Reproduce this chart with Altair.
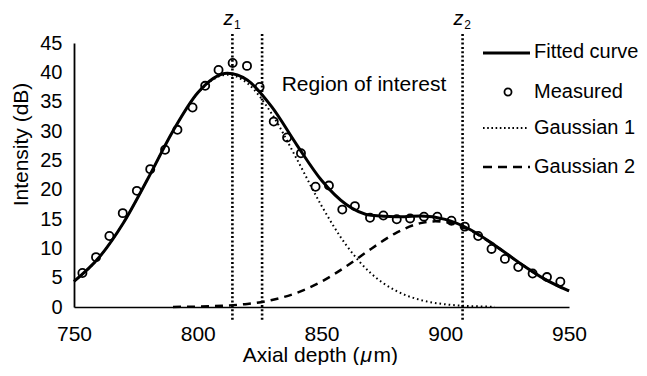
import altair as alt
import pandas as pd

# ---------------- data ----------------
measured_depth = [753.4, 758.9, 764.3, 769.7, 775.4, 780.8, 786.8, 791.8, 797.9, 803.0,
                  808.4, 814.1, 819.9, 825.0, 830.7, 836.1, 841.7, 847.6, 853.0, 858.4,
                  863.5, 869.6, 875.0, 880.4, 885.8, 891.4, 896.8, 902.5, 907.9, 913.3,
                  918.7, 924.1, 929.5, 935.3, 941.1, 946.5]
measured_intensity = [5.8, 8.5, 12.1, 16.0, 19.8, 23.5, 26.8, 30.2, 34.0, 37.7,
                      40.4, 41.6, 41.1, 37.5, 31.6, 28.9, 26.2, 20.5, 20.7, 16.6,
                      17.2, 15.2, 15.6, 14.95, 15.1, 15.4, 15.4, 14.7, 13.7, 12.1,
                      9.9, 8.2, 6.8, 5.7, 5.1, 4.3]

fit_depth = [750, 760, 770, 780, 790, 800, 812, 820, 830, 840, 850, 860, 870, 880,
             890, 900, 910, 920, 930, 940, 950]
fit_intensity = [4.35, 8.38, 14.37, 22.00, 30.01, 36.53, 39.85, 38.70, 34.07, 27.65,
                 21.60, 17.47, 15.63, 15.38, 15.50, 14.93, 13.21, 10.54, 7.52, 4.80, 2.73]

g1_depth = [750, 760, 770, 780, 790, 800, 812, 820, 830, 840, 850, 860, 870, 880,
            890, 900, 910, 920]
g1_intensity = [4.35, 8.38, 14.37, 21.99, 29.99, 36.46, 39.60, 38.17, 32.87, 25.24,
                17.27, 10.54, 5.73, 2.78, 1.20, 0.46, 0.16, 0.05]

g2_depth = [790, 800, 810, 820, 830, 840, 850, 860, 870, 880, 890, 896, 900, 910,
            920, 930, 940, 950]
g2_intensity = [0.02, 0.07, 0.21, 0.53, 1.20, 2.41, 4.33, 6.93, 9.90, 12.60, 14.30,
                14.60, 14.47, 13.05, 10.49, 7.51, 4.80, 2.73]

marker_depth = [814, 826, 907]
z_labels = [("z", "1", 814), ("z", "2", 907)]

x_ticks = [750, 800, 850, 900, 950]
y_ticks = [0, 5, 10, 15, 20, 25, 30, 35, 40, 45]

legend_labels = ["Fitted curve", "Measured", "Gaussian 1", "Gaussian 2"]

# ---------------- chart ----------------
FONT = "Liberation Sans"
W, H = 495, 264

xs = alt.Scale(domain=[750, 950], nice=False, zero=False)
ys = alt.Scale(domain=[0, 45], nice=False, zero=False)

x_axis = alt.Axis(values=x_ticks, ticks=False, tickSize=0, grid=False,
                  domainColor="black", domainWidth=1.5,
                  labelFont=FONT, labelFontSize=21, labelColor="black",
                  labelPadding=16, labelFlush=False, labelOverlap=False,
                  title=None)
y_axis = alt.Axis(values=y_ticks, ticks=False, tickSize=0, grid=False,
                  domainColor="black", domainWidth=1.8,
                  labelFont=FONT, labelFontSize=20, labelColor="black",
                  labelPadding=12, labelFlush=False, labelOverlap=False,
                  title="Intensity (dB)", titleFont=FONT, titleFontSize=21,
                  titleFontWeight="normal", titleColor="black",
                  titleAngle=270, titleX=-47, titleY=101,
                  titleBaseline="alphabetic", titleAlign="center")

X = alt.X("depth:Q", scale=xs, axis=x_axis)
Y = alt.Y("intensity:Q", scale=ys, axis=y_axis)

df_fit = pd.DataFrame({"depth": fit_depth, "intensity": fit_intensity})
df_g1 = pd.DataFrame({"depth": g1_depth, "intensity": g1_intensity})
df_g2 = pd.DataFrame({"depth": g2_depth, "intensity": g2_intensity})
df_meas = pd.DataFrame({"depth": measured_depth, "intensity": measured_intensity})
df_mark = pd.DataFrame({"depth": marker_depth})
df_z = pd.DataFrame({"z": [a for a, _, _ in z_labels],
                     "sub": [b for _, b, _ in z_labels],
                     "depth": [c for _, _, c in z_labels]})

fit = alt.Chart(df_fit).mark_line(color="black", strokeWidth=3,
                                  interpolate="monotone").encode(x=X, y=Y)
g1 = alt.Chart(df_g1).mark_line(color="black", strokeWidth=2, strokeDash=[1.6, 3],
                                interpolate="monotone").encode(x=X, y=Y)
g2 = alt.Chart(df_g2).mark_line(color="black", strokeWidth=2.5, strokeDash=[8, 6],
                                interpolate="monotone").encode(x=X, y=Y)
meas = alt.Chart(df_meas).mark_point(shape="circle", filled=False, color="black",
                                     size=66, strokeWidth=1.8, opacity=1).encode(x=X, y=Y)

vlines = alt.Chart(df_mark).mark_rule(color="black", strokeWidth=2.6,
                                      strokeDash=[2, 2.3]).encode(
    x=X, y=alt.value(-9), y2=alt.value(277))

z_main = alt.Chart(df_z).mark_text(font=FONT, fontSize=20, fontStyle="italic",
                                   align="center", baseline="alphabetic",
                                   color="black", dx=-4).encode(
    x=X, y=alt.value(-18), text="z:N")
z_sub = alt.Chart(df_z).mark_text(font=FONT, fontSize=12, align="center",
                                  baseline="alphabetic", color="black", dx=5).encode(
    x=X, y=alt.value(-14), text="sub:N")

one = alt.Data(values=[{}])

roi = alt.Chart(one).mark_text(font=FONT, fontSize=21, align="center",
                               baseline="alphabetic", color="black").encode(
    x=alt.value(290), y=alt.value(48), text=alt.value("Region of interest"))

# x-axis title with italic mu
TY = 319
xt1 = alt.Chart(one).mark_text(font=FONT, fontSize=21, align="right",
                               baseline="alphabetic", color="black").encode(
    x=alt.value(285.5), y=alt.value(TY), text=alt.value("Axial depth ("))
xt2 = alt.Chart(one).mark_text(font=FONT, fontSize=21, fontStyle="italic", align="left",
                               baseline="alphabetic", color="black").encode(
    x=alt.value(286.5), y=alt.value(TY), text=alt.value("\u03bc"))
xt3 = alt.Chart(one).mark_text(font=FONT, fontSize=21, align="left",
                               baseline="alphabetic", color="black").encode(
    x=alt.value(299.5), y=alt.value(TY), text=alt.value("m)"))

# legend
leg_fit = alt.Chart(one).mark_rule(color="black", strokeWidth=3).encode(
    x=alt.value(409), x2=alt.value(456), y=alt.value(10))
leg_meas = alt.Chart(one).mark_point(shape="circle", filled=False, color="black",
                                     size=50, strokeWidth=1.8, opacity=1).encode(
    x=alt.value(434), y=alt.value(49))
leg_g1 = alt.Chart(one).mark_rule(color="black", strokeWidth=1.8, strokeDash=[1.6, 2.6]).encode(
    x=alt.value(409), x2=alt.value(453), y=alt.value(85))
leg_g2 = alt.Chart(one).mark_rule(color="black", strokeWidth=2.5, strokeDash=[9, 6]).encode(
    x=alt.value(409), x2=alt.value(456), y=alt.value(124))

leg_text_df = pd.DataFrame({"label": legend_labels, "py": [9, 48.5, 85, 124]})
leg_text = alt.Chart(leg_text_df).mark_text(font=FONT, fontSize=20, align="left",
                                            baseline="middle", color="black").encode(
    x=alt.value(460), y=alt.Y("py:Q", scale=None), text="label:N")

chart = alt.layer(
    g1, g2, fit, meas, vlines, z_main, z_sub, roi, xt1, xt2, xt3,
    leg_fit, leg_meas, leg_g1, leg_g2, leg_text
).properties(
    width=W, height=H,
    autosize=alt.AutoSizeParams(type="none"),
    padding={"left": 66, "top": 35, "right": 70, "bottom": 58},
    background="white"
).configure_view(stroke=None)

chart.save("out.html", embed_options={"renderer": "svg", "actions": False})
